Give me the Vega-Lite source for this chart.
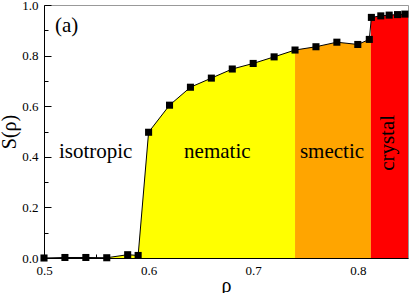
{
  "$schema": "https://vega.github.io/schema/vega-lite/v6.json",
  "width": 364,
  "height": 253,
  "autosize": {"type": "none"},
  "padding": {"left": 44, "top": 5, "right": 1, "bottom": 35},
  "background": "white",
  "config": {
    "view": {"stroke": "#999999", "strokeWidth": 1},
    "font": "Liberation Serif",
    "axis": {"grid": false, "domainColor": "black", "tickColor": "black", "labelColor": "black", "titleColor": "black", "labelFont": "Liberation Serif", "titleFont": "Liberation Serif", "labelFontSize": 13, "titleFontSize": 20, "titleFontWeight": "normal"}
  },
  "datasets": {
    "pts": [
      {"rho": 0.50, "S": 0.000}, {"rho": 0.52, "S": 0.002}, {"rho": 0.54, "S": 0.002}, {"rho": 0.56, "S": 0.001},
      {"rho": 0.58, "S": 0.013}, {"rho": 0.59, "S": 0.010}, {"rho": 0.60, "S": 0.497}, {"rho": 0.62, "S": 0.604},
      {"rho": 0.64, "S": 0.675}, {"rho": 0.66, "S": 0.711}, {"rho": 0.68, "S": 0.747}, {"rho": 0.70, "S": 0.769},
      {"rho": 0.72, "S": 0.795}, {"rho": 0.74, "S": 0.822}, {"rho": 0.76, "S": 0.835}, {"rho": 0.78, "S": 0.853},
      {"rho": 0.80, "S": 0.844}, {"rho": 0.811, "S": 0.864}, {"rho": 0.813, "S": 0.951}, {"rho": 0.822, "S": 0.957},
      {"rho": 0.830, "S": 0.960}, {"rho": 0.838, "S": 0.962}, {"rho": 0.845, "S": 0.964}
    ],
    "fill": [
      {"rho": 0.56, "S": 0.001, "phase": "nematic"}, {"rho": 0.58, "S": 0.013, "phase": "nematic"}, {"rho": 0.59, "S": 0.010, "phase": "nematic"},
      {"rho": 0.60, "S": 0.497, "phase": "nematic"}, {"rho": 0.62, "S": 0.604, "phase": "nematic"}, {"rho": 0.64, "S": 0.675, "phase": "nematic"},
      {"rho": 0.66, "S": 0.711, "phase": "nematic"}, {"rho": 0.68, "S": 0.747, "phase": "nematic"}, {"rho": 0.70, "S": 0.769, "phase": "nematic"},
      {"rho": 0.72, "S": 0.795, "phase": "nematic"}, {"rho": 0.74, "S": 0.822, "phase": "nematic"},
      {"rho": 0.74, "S": 0.822, "phase": "smectic"}, {"rho": 0.76, "S": 0.835, "phase": "smectic"}, {"rho": 0.78, "S": 0.853, "phase": "smectic"},
      {"rho": 0.80, "S": 0.844, "phase": "smectic"}, {"rho": 0.811, "S": 0.864, "phase": "smectic"}, {"rho": 0.8125, "S": 0.87, "phase": "smectic"},
      {"rho": 0.8125, "S": 0.951, "phase": "crystal"}, {"rho": 0.822, "S": 0.957, "phase": "crystal"}, {"rho": 0.830, "S": 0.960, "phase": "crystal"},
      {"rho": 0.838, "S": 0.962, "phase": "crystal"}, {"rho": 0.845, "S": 0.964, "phase": "crystal"}, {"rho": 0.848, "S": 0.965, "phase": "crystal"}
    ],
    "labels": [
      {"rho": 0.5494, "S": 0.397, "txt": "isotropic"},
      {"rho": 0.6657, "S": 0.397, "txt": "nematic"},
      {"rho": 0.7753, "S": 0.397, "txt": "smectic"}
    ],
    "rot": [
      {"rho": 0.8292, "S": 0.455, "txt": "crystal"}
    ],
    "tag": [
      {"rho": 0.5217, "S": 0.917, "txt": "(a)"}
    ]
  },
  "encoding": {
    "x": {"field": "rho", "type": "quantitative", "scale": {"domain": [0.5, 0.848], "nice": false, "zero": false},
      "axis": {"title": "ρ", "values": [0.5, 0.55, 0.6, 0.65, 0.7, 0.75, 0.8],
        "labelExpr": "abs(datum.value*10 - round(datum.value*10)) < 0.01 ? format(datum.value, '.1f') : ''",
        "tickSize": {"condition": {"test": "abs(datum.value*10 - round(datum.value*10)) < 0.01", "value": -7}, "value": -4},
        "labelPadding": 13, "titlePadding": -2, "labelFlush": false}},
    "y": {"field": "S", "type": "quantitative", "scale": {"domain": [0, 1], "nice": false},
      "axis": {"title": "S(ρ)", "values": [0, 0.1, 0.2, 0.3, 0.4, 0.5, 0.6, 0.7, 0.8, 0.9, 1.0],
        "labelExpr": "abs(datum.value*5 - round(datum.value*5)) < 0.01 ? format(datum.value, '.1f') : ''",
        "tickSize": {"condition": {"test": "abs(datum.value*5 - round(datum.value*5)) < 0.01", "value": -7}, "value": -4},
        "labelPadding": 13, "titlePadding": 2, "labelFlush": false}}
  },
  "layer": [
    {
      "data": {"name": "fill"},
      "mark": {"type": "area", "opacity": 1},
      "encoding": {
        "y": {"field": "S", "type": "quantitative", "stack": null},
        "color": {"field": "phase", "type": "nominal", "legend": null,
          "scale": {"domain": ["nematic", "smectic", "crystal"], "range": ["#FFFF00", "#FFA500", "#FF0000"]}}
      }
    },
    {
      "data": {"name": "pts"},
      "mark": {"type": "line", "color": "black", "strokeWidth": 1},
      "encoding": {}
    },
    {
      "data": {"name": "pts"},
      "mark": {"type": "point", "shape": "square", "filled": true, "color": "black", "size": 50, "opacity": 1},
      "encoding": {}
    },
    {
      "data": {"name": "labels"},
      "mark": {"type": "text", "font": "Liberation Serif", "fontSize": 21, "baseline": "alphabetic", "align": "center", "color": "black"},
      "encoding": {"text": {"field": "txt"}}
    },
    {
      "data": {"name": "rot"},
      "mark": {"type": "text", "font": "Liberation Serif", "fontSize": 21, "baseline": "middle", "align": "center", "angle": 270, "color": "black"},
      "encoding": {"text": {"field": "txt"}}
    },
    {
      "data": {"name": "tag"},
      "mark": {"type": "text", "font": "Liberation Serif", "fontSize": 21, "baseline": "middle", "align": "center", "color": "black"},
      "encoding": {"text": {"field": "txt"}}
    }
  ]
}
